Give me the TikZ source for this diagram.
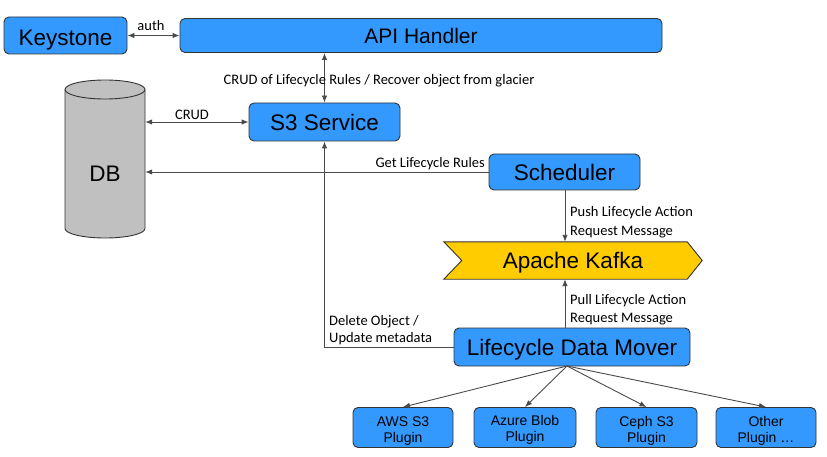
\documentclass[tikz,border=0pt]{standalone}
\usepackage{fontspec}
\setmainfont{Liberation Sans}
\newfontfamily\lblfont{Carlito}
\usetikzlibrary{arrows.meta,calc}
\definecolor{boxblue}{HTML}{3399FF}
\definecolor{kafkagold}{HTML}{FFCC00}
\definecolor{dbgray}{HTML}{C0C0C0}
\definecolor{edgegray}{HTML}{333333}
\definecolor{linegray}{HTML}{4A4A4A}
\tikzset{
  bigtext/.style={font=\fontsize{22.5}{26}\selectfont, text height=16.3pt, text depth=0pt},
  bluebox/.style={draw=edgegray, fill=boxblue, rounded corners=5pt, line width=0.9pt,
    inner sep=0pt, bigtext},
  plugbox/.style={draw=edgegray, fill=boxblue, rounded corners=5pt, line width=0.9pt,
    inner sep=0pt, minimum width=100pt, minimum height=40pt},
  plugtext/.style={align=center, inner sep=0pt, font=\fontsize{14}{16}\selectfont},
  conn/.style={draw=linegray, line width=0.9pt, -{Latex[length=7pt,width=5.5pt]}},
  biconn/.style={draw=linegray, line width=0.9pt, {Latex[length=7pt,width=5.5pt]}-{Latex[length=7pt,width=5.5pt]}},
  lbl/.style={font=\lblfont\fontsize{14.5}{18}\selectfont, inner sep=0pt, text=black},
}
\begin{document}
\begin{tikzpicture}[x=1pt,y=-1pt]
\useasboundingbox (0,0) rectangle (827,457);
% boxes
\node[bluebox, minimum width=123pt, minimum height=37pt] (keystone) at (65.5,35.5) {};
\node[bigtext, inner sep=0pt] (keystonetext) at (65.5,37.5) {Keystone};
\node[bluebox, minimum width=482pt, minimum height=34pt, font=\fontsize{21}{24}\selectfont, text height=15.2pt] (api) at (421,35.5) {API Handler};
\node[bluebox, minimum width=151pt, minimum height=38pt] (s3) at (324.5,122) {S3 Service};
\node[bluebox, minimum width=151pt, minimum height=36pt] (sched) at (564.5,172) {Scheduler};
\node[bluebox, minimum width=236pt, minimum height=38pt] (ldm) at (572,347) {Lifecycle Data Mover};
% DB cylinder
\node[minimum width=80pt, minimum height=158pt, inner sep=0pt] (db) at (105,159) {};
\draw[fill=dbgray, draw=edgegray, line width=0.9pt]
  (65,89.5) -- (65,228.5) arc[start angle=180, end angle=360, x radius=40pt, y radius=9.5pt]
  -- (145,89.5) arc[start angle=0, end angle=180, x radius=40pt, y radius=9.5pt] -- cycle;
\draw[draw=edgegray, line width=0.9pt]
  (65,89.5) arc[start angle=180, end angle=360, x radius=40pt, y radius=9.5pt];
\node[bigtext, inner sep=0pt] (dblabel) at (105,173) {DB};
% Kafka chevron
\node[minimum width=258pt, minimum height=37pt, inner sep=0pt] (kafka) at (573,260.5) {};
\draw[fill=kafkagold, draw=edgegray, line width=0.9pt] (kafka.north west) -- ($(kafka.north east)+(-15,0)$) -- (kafka.east)
  -- ($(kafka.south east)+(-15,0)$) -- (kafka.south west) -- ($(kafka.west)+(18,0)$) -- cycle;
\node[bigtext, inner sep=0pt] (kafkatext) at (kafka.center) {Apache Kafka};
% plugins
\node[plugbox] (aws) at (403,427.5) {};
\node[plugtext] (awstext) at (403,431) {AWS S3\\Plugin};
\node[plugbox, minimum width=102pt] (azure) at (525,427.5) {};
\node[plugtext] (azuretext) at (525,430) {Azure Blob\\Plugin};
\node[plugbox, minimum width=101pt] (ceph) at (646.5,427.5) {};
\node[plugtext] (cephtext) at (646.5,431) {Ceph S3\\Plugin};
\node[plugbox] (other) at (766,427.5) {};
\node[plugtext] (othertext) at (766,431) {Other\\Plugin \dots};
% connectors
\draw[biconn] (keystone.east) -- (keystone.east -| api.west);
\node[lbl] (authlbl) at (151,26) {auth};
\draw[biconn] (s3.north) -- (s3.north |- api.south);
\node[lbl] (crudlifelbl) at (379,81) {CRUD of Lifecycle Rules / Recover object from glacier};
\draw[biconn] (s3.west) -- (s3.west -| db.east);
\node[lbl] (crudlbl) at (192,115) {CRUD};
\draw[conn] (sched.west) -- (sched.west -| db.east);
\node[lbl, anchor=east] (getlbl) at (485,164) {Get Lifecycle Rules};
\coordinate (schedout) at (565,190);
\draw[conn] (schedout) -- (schedout |- kafka.north);
\node[lbl, anchor=west, align=left, font=\lblfont\fontsize{14.5}{19}\selectfont] (pushlbl) at (570,222) {Push Lifecycle Action\\Request Message};
\coordinate (ldmout) at (565,328);
\draw[conn] (ldmout) -- (ldmout |- kafka.south);
\node[lbl, anchor=west, align=left] (pulllbl) at (570,310) {Pull Lifecycle Action\\Request Message};
\draw[conn] (ldm.west) -| (s3.south);
\node[lbl, anchor=west, align=left, font=\lblfont\fontsize{14.5}{17}\selectfont] (dellbl) at (329,330.5) {Delete Object /\\Update metadata};
\coordinate (fan) at (567,366);
\draw[conn] (fan) -- (aws.north);
\draw[conn] (fan) -- (azure.north);
\draw[conn] (fan) -- (ceph.north);
\draw[conn] (fan) -- (other.north);
\end{tikzpicture}
\end{document}
